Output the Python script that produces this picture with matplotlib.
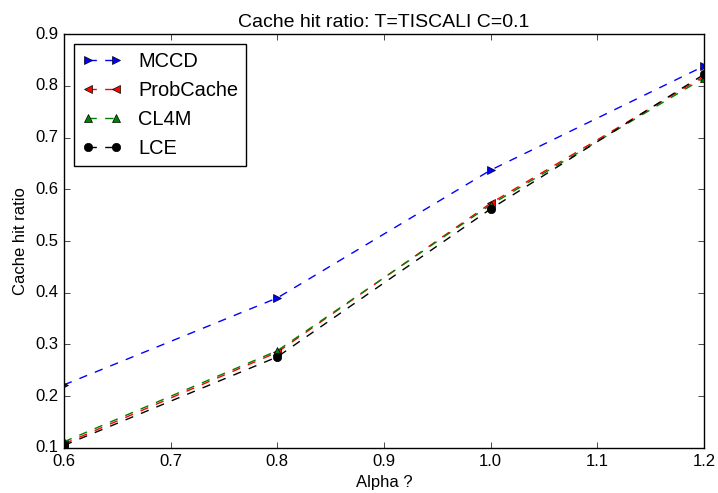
import numpy as np
import matplotlib
matplotlib.use("Agg")
import matplotlib.pyplot as plt

plt.style.use('classic')
plt.rcParams['font.family'] = ['Liberation Sans', 'DejaVu Sans']

alpha = [0.6, 0.8, 1.0, 1.2]
mccd = [0.222, 0.390, 0.637, 0.838]
probcache = [0.108, 0.285, 0.573, 0.818]
cl4m = [0.112, 0.288, 0.570, 0.815]
lce = [0.105, 0.276, 0.562, 0.822]

fig = plt.figure(figsize=(7.18, 4.93), dpi=100)
ax = fig.add_axes([0.0891, 0.0913, 0.8914, 0.8397])

ax.plot(alpha, mccd, 'b--', marker='>', label='MCCD')
ax.plot(alpha, probcache, 'r--', marker='<', label='ProbCache')
ax.plot(alpha, cl4m, 'g--', marker='^', label='CL4M')
ax.plot(alpha, lce, 'k--', marker='o', label='LCE')

ax.set_xlim(0.6, 1.2)
ax.set_ylim(0.1, 0.9)
ax.set_title('Cache hit ratio: T=TISCALI C=0.1', fontsize=14)
ax.set_xlabel('Alpha ?', fontsize=12)
ax.set_ylabel('Cache hit ratio', fontsize=12)
ax.legend(loc='upper left')

fig.savefig('out.png', dpi=100)
